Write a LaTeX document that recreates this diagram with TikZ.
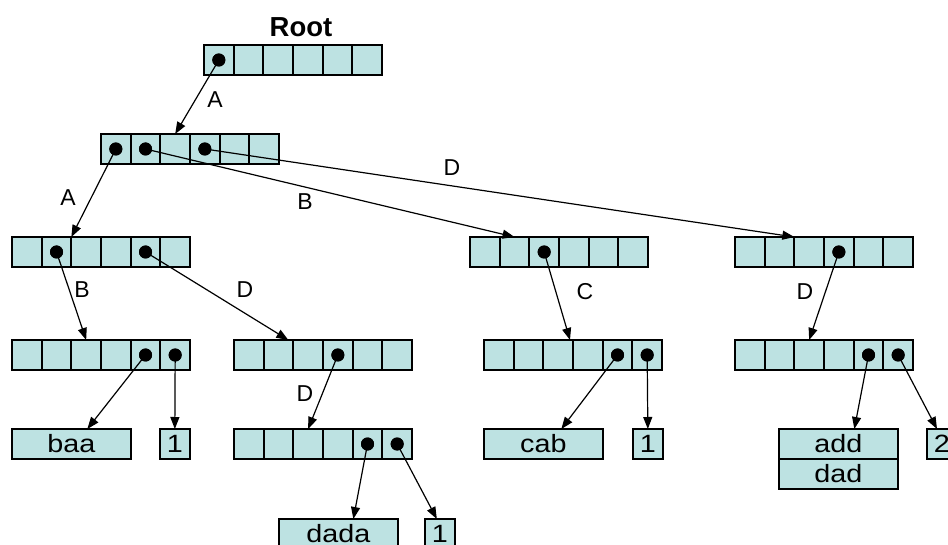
\documentclass[tikz,border=0pt]{standalone}
\usepackage{fontspec}
\setmainfont{Liberation Sans}
\newfontfamily\boxfont[FakeStretch=1.15]{Liberation Sans}
\usetikzlibrary{arrows.meta,calc}
\definecolor{cellfill}{RGB}{189,226,226}
\tikzset{
  cell/.style={draw=black, line width=1.8pt, fill=cellfill, minimum width=29.67pt,
    minimum height=30pt, inner sep=0pt, outer sep=0pt, anchor=north west},
  leaf/.style={cell, font=\boxfont\fontsize{25}{25}\selectfont},
  wordbox/.style={leaf, minimum width=118.67pt},
  ptr/.style={circle, fill=black, inner sep=0pt, minimum size=13pt},
  link/.style={draw=black, line width=1.2pt, -{Triangle[length=12pt,width=9pt]}},
  lbl/.style={font=\fontsize{23}{23}\selectfont, inner sep=0pt},
}
\newcommand\mkarray[3]{%
  \foreach \i in {1,...,6} {
    \node[cell] (#1-\i) at ({#2+(\i-1)*29.67}, #3) {};
  }%
}
\begin{document}
\begin{tikzpicture}[x=1pt,y=-1pt]
\useasboundingbox (0,0) rectangle (948,545);
% title
\node[font=\bfseries\fontsize{27.5}{27.5}\selectfont, inner sep=0pt] (title) at (301,27) {Root};
% arrays
\mkarray{root}{204}{45}
\mkarray{la}{101}{134}
\mkarray{lba}{12}{237}
\mkarray{lbb}{470}{237}
\mkarray{lbc}{735}{237}
\mkarray{lca}{12}{340}
\mkarray{lcb}{234}{340}
\mkarray{lcc}{484}{340}
\mkarray{lcd}{735}{340}
\mkarray{ld}{234}{429}
% leaves
\node[wordbox] (baa) at (12,429) {baa};
\node[leaf] (onea) at (160,429) {1};
\node[wordbox] (cab) at (484,429) {cab};
\node[leaf] (oneb) at (633,429) {1};
\node[wordbox] (add) at (779,429) {add};
\node[wordbox] (dad) at (779,459) {dad};
\node[leaf] (two) at (927,429) {2};
\node[wordbox] (dada) at (279,519) {dada};
\node[leaf] (onec) at (425,519) {1};
% pointer dots
\node[ptr] (p-root-1) at (root-1) {};
\node[ptr] (p-la-1) at (la-1) {};
\node[ptr] (p-la-2) at (la-2) {};
\node[ptr] (p-la-4) at (la-4) {};
\node[ptr] (p-lba-2) at (lba-2) {};
\node[ptr] (p-lba-5) at (lba-5) {};
\node[ptr] (p-lbb-3) at (lbb-3) {};
\node[ptr] (p-lbc-4) at (lbc-4) {};
\node[ptr] (p-lca-5) at (lca-5) {};
\node[ptr] (p-lca-6) at (lca-6) {};
\node[ptr] (p-lcb-4) at (lcb-4) {};
\node[ptr] (p-lcc-5) at (lcc-5) {};
\node[ptr] (p-lcc-6) at (lcc-6) {};
\node[ptr] (p-lcd-5) at (lcd-5) {};
\node[ptr] (p-lcd-6) at (lcd-6) {};
\node[ptr] (p-ld-5) at (ld-5) {};
\node[ptr] (p-ld-6) at (ld-6) {};
% arrow targets
\coordinate (t-lcb) at ($(lcb-3.north west)+(-5,0)$);
\coordinate (t-lcc) at ($(lcc-4.north west)+(-3,0)$);
\coordinate (t-dada) at ($(dada.north)+(15,0)$);
\coordinate (t-cab) at ($(cab.north)+(18,0)$);
\coordinate (t-add) at ($(add.north)+(16,0)$);
\coordinate (t-baa) at ($(baa.north)+(16,0)$);
\coordinate (t-two) at ($(two.north west)+(10,0)$);
\coordinate (t-onec) at ($(onec.north)+(-3,0)$);
% connectors
\draw[link] (p-root-1.center) -- (la-3.north);
\draw[link] (p-la-1.center) -- (lba-3.north west);
\draw[link] (p-la-2.center) -- (lbb-2.north);
\draw[link] (p-la-4.center) -- (lbc-3.north west);
\draw[link] (p-lba-2.center) -- (lca-3.north);
\draw[link] (p-lba-5.center) -- (t-lcb);
\draw[link] (p-lcb-4.center) -- (ld-3.north);
\draw[link] (p-ld-5.center) -- (t-dada);
\draw[link] (p-ld-6.center) -- (t-onec);
\draw[link] (p-lbb-3.center) -- (t-lcc);
\draw[link] (p-lcc-5.center) -- (t-cab);
\draw[link] (p-lcc-6.center) -- (oneb.north);
\draw[link] (p-lbc-4.center) -- (lcd-3.north);
\draw[link] (p-lcd-5.center) -- (t-add);
\draw[link] (p-lcd-6.center) -- (t-two);
\draw[link] (p-lca-5.center) -- (t-baa);
\draw[link] (p-lca-6.center) -- (onea.north);
% redraw dots on top
\foreach \p in {p-root-1,p-la-1,p-la-2,p-la-4,p-lba-2,p-lba-5,p-lbb-3,p-lbc-4,p-lca-5,p-lca-6,p-lcb-4,p-lcc-5,p-lcc-6,p-lcd-5,p-lcd-6,p-ld-5,p-ld-6}
  \fill (\p.center) circle (6.5pt);
% labels
\node[lbl] (l-a1) at (215,100) {A};
\node[lbl] (l-a2) at (68,198) {A};
\node[lbl] (l-b1) at (305,202) {B};
\node[lbl] (l-d1) at (452,168) {D};
\node[lbl] (l-b2) at (82,290) {B};
\node[lbl] (l-d2) at (245,290) {D};
\node[lbl] (l-d3) at (305,394) {D};
\node[lbl] (l-c1) at (585,292) {C};
\node[lbl] (l-d4) at (805,292) {D};
\end{tikzpicture}
\end{document}
